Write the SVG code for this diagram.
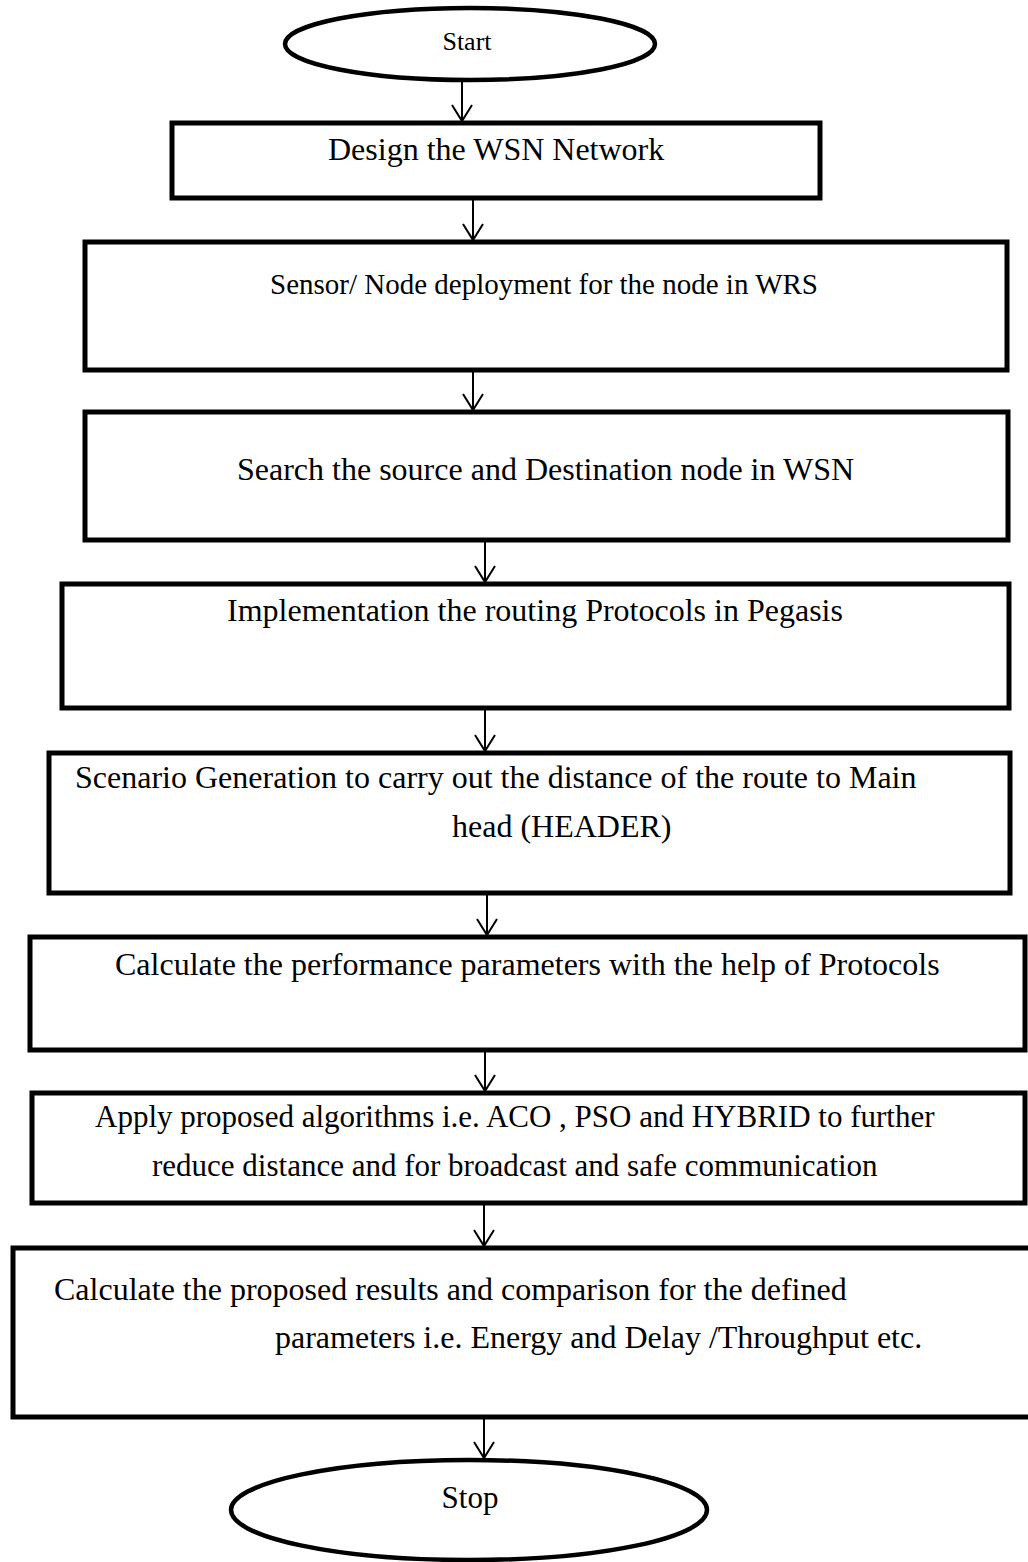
<svg xmlns="http://www.w3.org/2000/svg" width="1028" height="1562" viewBox="0 0 1028 1562">
<style>
  .box { fill: #fff; stroke: #000; stroke-width: 5; }
  .term { fill: #fff; stroke: #000; stroke-width: 4.5; }
  .t { font-family: "Liberation Serif", "Times New Roman", serif; font-size: 32px; fill: #000; }
  .conn { stroke: #000; stroke-width: 2; fill: none; marker-end: url(#arr); }
</style>
<defs>
  <marker id="arr" viewBox="-18 -12 20 24" markerUnits="userSpaceOnUse" markerWidth="20" markerHeight="24" refX="0" refY="0" orient="auto">
    <path d="M-16,-10 L0,0 L-16,10" fill="none" stroke="#000" stroke-width="2"/>
  </marker>
</defs>
<rect width="1028" height="1562" fill="#fff"/>

<g id="connectors">
  <line class="conn" x1="462" y1="80" x2="462" y2="121"/>
  <line class="conn" x1="473" y1="198" x2="473" y2="240"/>
  <line class="conn" x1="473" y1="370" x2="473" y2="410"/>
  <line class="conn" x1="485" y1="540" x2="485" y2="582"/>
  <line class="conn" x1="485" y1="708" x2="485" y2="751"/>
  <line class="conn" x1="487" y1="893" x2="487" y2="935"/>
  <line class="conn" x1="485" y1="1050" x2="485" y2="1091"/>
  <line class="conn" x1="484" y1="1203" x2="484" y2="1246"/>
  <line class="conn" x1="484" y1="1417" x2="484" y2="1458"/>
</g>

<g id="start">
  <ellipse class="term" cx="470" cy="44" rx="185" ry="36"/>
  <text class="t" x="467" y="50" text-anchor="middle" style="font-size:26px">Start</text>
</g>

<g id="n1">
  <rect class="box" x="172" y="123" width="648" height="75"/>
  <text class="t" x="328" y="160">Design the WSN Network</text>
</g>

<g id="n2">
  <rect class="box" x="85" y="242" width="922" height="128"/>
  <text class="t" x="270" y="294" style="font-size:29px">Sensor/ Node deployment for the node in WRS</text>
</g>

<g id="n3">
  <rect class="box" x="85" y="412" width="923" height="128"/>
  <text class="t" x="237" y="480">Search the source and Destination node in WSN</text>
</g>

<g id="n4">
  <rect class="box" x="62" y="584" width="947" height="124"/>
  <text class="t" x="227" y="621">Implementation the routing Protocols in Pegasis</text>
</g>

<g id="n5">
  <rect class="box" x="49" y="753" width="961" height="140"/>
  <text class="t" x="75" y="788">Scenario Generation to carry out the distance of the route to Main</text>
  <text class="t" x="452" y="837">head (HEADER)</text>
</g>

<g id="n6">
  <rect class="box" x="30" y="937" width="995" height="113"/>
  <text class="t" x="115" y="975">Calculate the performance parameters with the help of Protocols</text>
</g>

<g id="n7">
  <rect class="box" x="32" y="1093" width="993" height="110"/>
  <text class="t" x="95" y="1127" style="font-size:31px">Apply proposed algorithms i.e. ACO , PSO and HYBRID to further</text>
  <text class="t" x="152" y="1176" style="font-size:31px">reduce distance and for broadcast and safe communication</text>
</g>

<g id="n8">
  <rect class="box" x="13" y="1248" width="1030" height="169"/>
  <text class="t" x="54" y="1300">Calculate the proposed results and comparison for the defined</text>
  <text class="t" x="275" y="1348">parameters i.e. Energy and Delay /Throughput etc.</text>
</g>

<g id="stop">
  <ellipse class="term" cx="469" cy="1510" rx="238" ry="50"/>
  <text class="t" x="470" y="1508" text-anchor="middle" style="font-size:31px">Stop</text>
</g>
</svg>
